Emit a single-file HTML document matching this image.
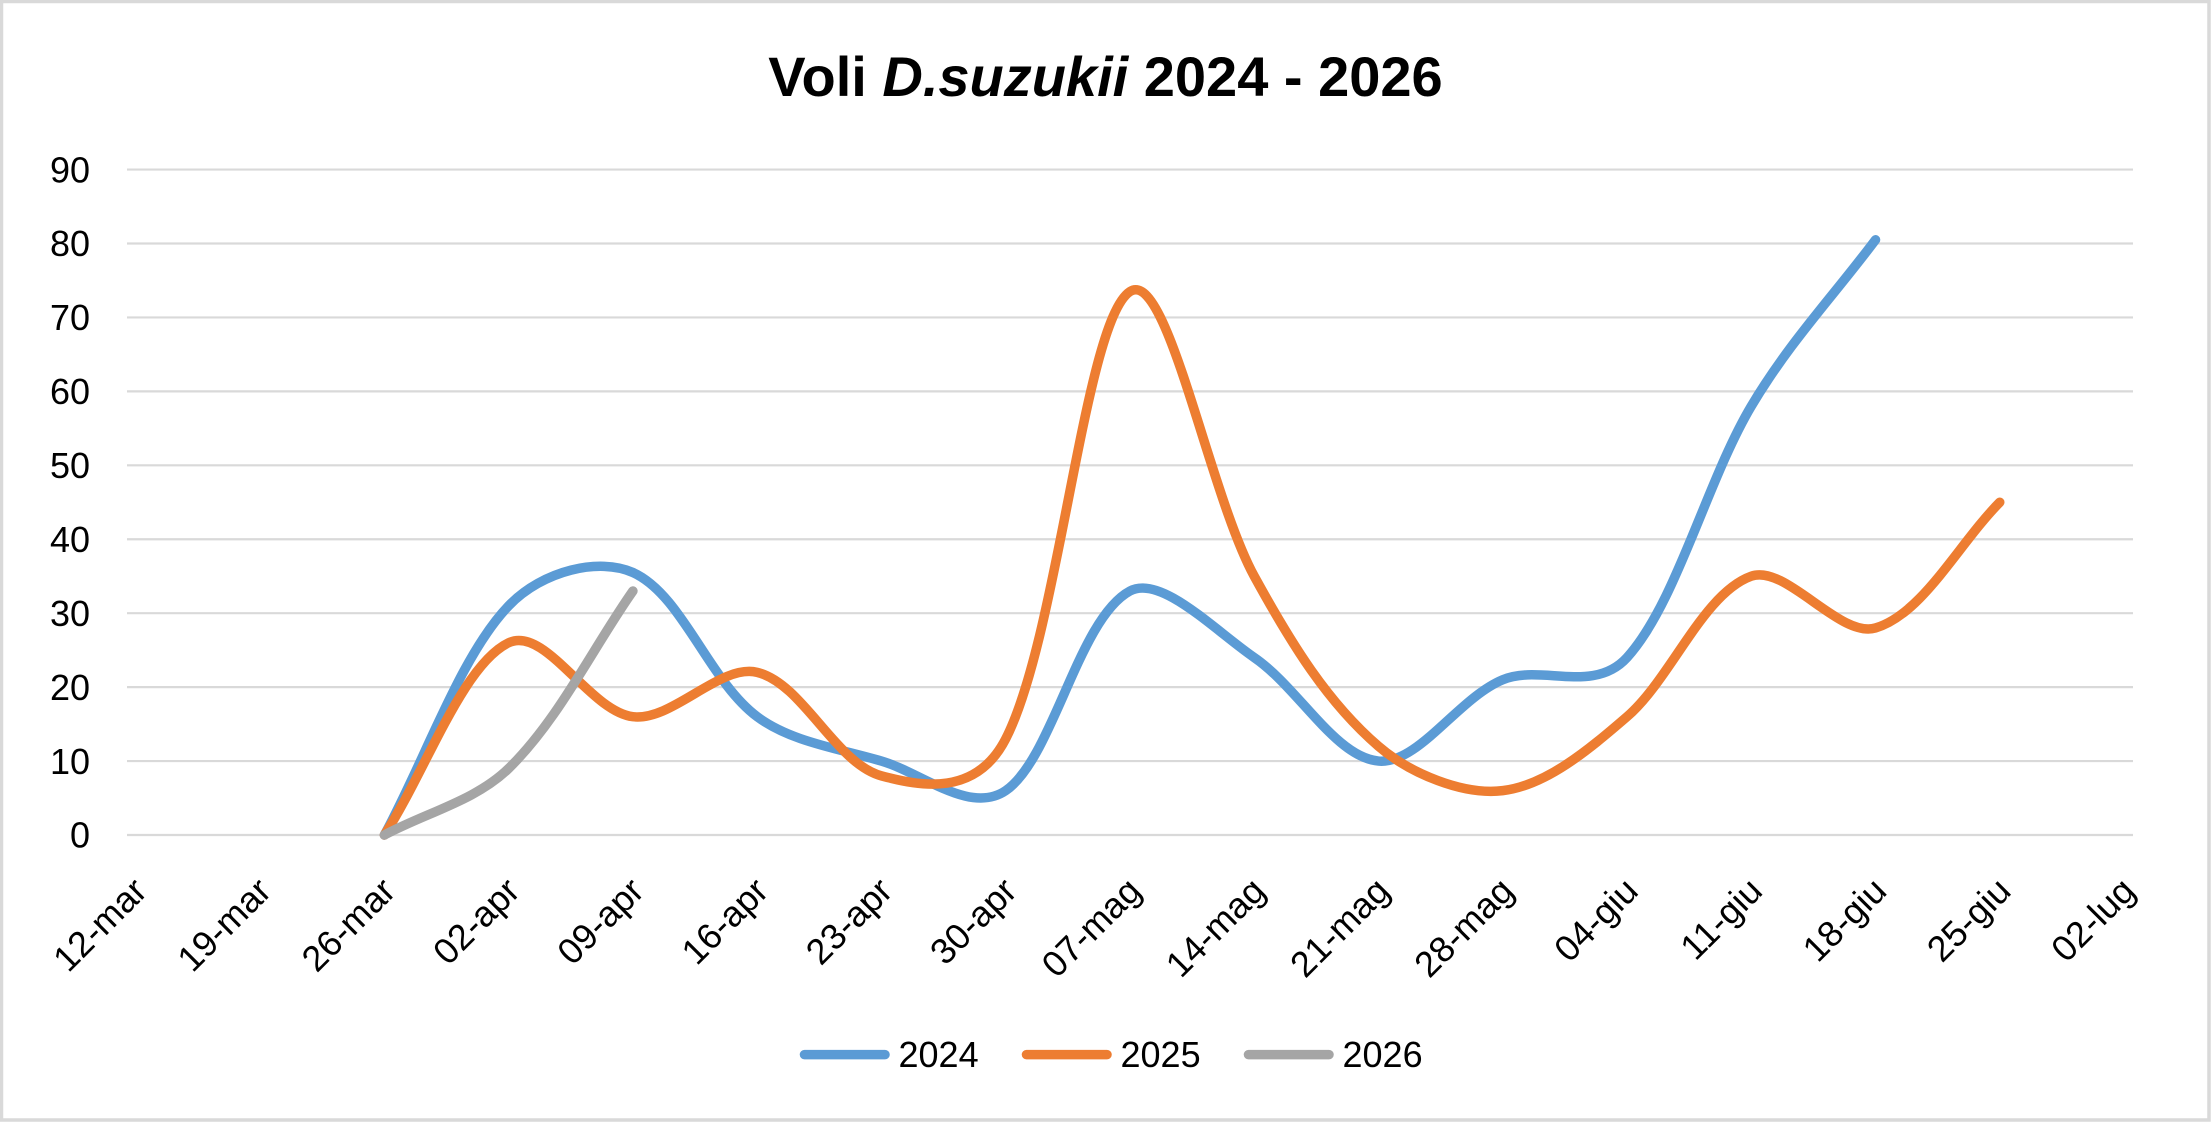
<!DOCTYPE html>
<html>
<head>
<meta charset="utf-8">
<style>
  html, body { margin: 0; padding: 0; background: #ffffff; }
  svg { display: block; }
  text { font-family: "Liberation Sans", Arial, sans-serif; fill: #000000; }
</style>
</head>
<body>
<svg width="2211" height="1122" viewBox="0 0 2211 1122" xmlns="http://www.w3.org/2000/svg">
  <rect x="0" y="0" width="2211" height="1122" fill="#ffffff"/>
  <rect x="1.5" y="1.5" width="2207.5" height="1118.5" fill="none" stroke="#D9D9D9" stroke-width="3.5"/>

  <!-- Title -->
  <text x="1105.5" y="96" text-anchor="middle" font-size="56" font-weight="bold">Voli <tspan font-style="italic">D.suzukii</tspan> 2024 - 2026</text>

  <!-- Gridlines -->
  <g stroke="#D9D9D9" stroke-width="2.2">
    <line x1="127" y1="169.54" x2="2133" y2="169.54"/>
    <line x1="127" y1="243.48" x2="2133" y2="243.48"/>
    <line x1="127" y1="317.42" x2="2133" y2="317.42"/>
    <line x1="127" y1="391.36" x2="2133" y2="391.36"/>
    <line x1="127" y1="465.30" x2="2133" y2="465.30"/>
    <line x1="127" y1="539.24" x2="2133" y2="539.24"/>
    <line x1="127" y1="613.18" x2="2133" y2="613.18"/>
    <line x1="127" y1="687.12" x2="2133" y2="687.12"/>
    <line x1="127" y1="761.06" x2="2133" y2="761.06"/>
    <line x1="127" y1="835.00" x2="2133" y2="835.00"/>
  </g>

  <!-- Y axis labels -->
  <g font-size="36" text-anchor="end">
    <text x="90" y="182.3">90</text>
    <text x="90" y="256.2">80</text>
    <text x="90" y="330.2">70</text>
    <text x="90" y="404.1">60</text>
    <text x="90" y="478.0">50</text>
    <text x="90" y="552.0">40</text>
    <text x="90" y="625.9">30</text>
    <text x="90" y="699.9">20</text>
    <text x="90" y="773.8">10</text>
    <text x="90" y="847.7">0</text>
  </g>

  <!-- X axis labels -->
  <g font-size="36" text-anchor="end">
    <text transform="translate(148.9,893) rotate(-45)">12-mar</text>
    <text transform="translate(273.1,893) rotate(-45)">19-mar</text>
    <text transform="translate(397.4,893) rotate(-45)">26-mar</text>
    <text transform="translate(521.7,893) rotate(-45)">02-apr</text>
    <text transform="translate(645.9,893) rotate(-45)">09-apr</text>
    <text transform="translate(770.2,893) rotate(-45)">16-apr</text>
    <text transform="translate(894.4,893) rotate(-45)">23-apr</text>
    <text transform="translate(1018.7,893) rotate(-45)">30-apr</text>
    <text transform="translate(1143.0,893) rotate(-45)">07-mag</text>
    <text transform="translate(1267.2,893) rotate(-45)">14-mag</text>
    <text transform="translate(1391.5,893) rotate(-45)">21-mag</text>
    <text transform="translate(1515.7,893) rotate(-45)">28-mag</text>
    <text transform="translate(1640.0,893) rotate(-45)">04-giu</text>
    <text transform="translate(1764.3,893) rotate(-45)">11-giu</text>
    <text transform="translate(1888.5,893) rotate(-45)">18-giu</text>
    <text transform="translate(2012.8,893) rotate(-45)">25-giu</text>
    <text transform="translate(2137.0,893) rotate(-45)">02-lug</text>
  </g>

  <!-- Series -->
  <g fill="none" stroke-width="9.5" stroke-linecap="round" stroke-linejoin="round">
    <path stroke="#5B9BD5" d="M384.40,835.00
      C425.82,758.60 460.15,656.31 508.66,605.79
      C542.99,570.05 599.36,557.53 632.92,572.51
      C682.20,594.50 708.55,680.53 757.18,716.70
      C791.39,742.14 839.35,748.54 881.44,761.06
      C922.19,773.18 970.41,814.79 1005.70,790.64
      C1053.25,758.11 1078.17,618.74 1129.96,591.00
      C1161.01,574.37 1215.64,631.14 1254.22,657.54
      C1298.48,687.83 1335.29,757.20 1378.48,761.06
      C1418.13,764.60 1457.96,698.38 1502.74,679.73
      C1540.80,663.88 1593.44,694.50 1627.00,657.54
      C1676.28,603.30 1706.75,480.97 1751.26,406.15
      C1789.60,341.71 1834.10,295.24 1875.52,239.78"/>
    <path stroke="#ED7D31" d="M384.40,835.00
      C425.82,770.92 462.57,664.71 508.66,642.76
      C545.41,625.27 589.61,711.55 632.92,716.70
      C672.44,721.40 719.96,663.47 757.18,672.33
      C802.80,683.19 835.46,763.54 881.44,775.85
      C920.58,786.33 975.90,796.97 1005.70,738.88
      C1058.74,635.53 1084.40,321.36 1129.96,291.54
      C1167.24,267.14 1208.94,493.35 1254.22,576.21
      C1291.78,644.68 1327.55,702.32 1378.48,746.27
      C1410.39,773.80 1463.22,795.34 1502.74,790.64
      C1546.05,785.49 1588.26,750.13 1627.00,716.70
      C1671.10,678.65 1703.03,593.43 1751.26,576.21
      C1785.87,563.85 1839.71,638.63 1875.52,627.97
      C1922.55,613.98 1958.36,544.17 1999.78,502.27"/>
    <path stroke="#A5A5A5" d="M384.40,835.00
      C425.82,812.82 476.00,800.51 508.66,768.45
      C558.85,719.18 591.50,650.15 632.92,591.00"/>
  </g>

  <!-- Legend -->
  <g stroke-width="9.5" stroke-linecap="round">
    <line x1="804.5" y1="1054.6" x2="885" y2="1054.6" stroke="#5B9BD5"/>
    <line x1="1026.5" y1="1054.6" x2="1107" y2="1054.6" stroke="#ED7D31"/>
    <line x1="1248.5" y1="1054.6" x2="1329" y2="1054.6" stroke="#A5A5A5"/>
  </g>
  <g font-size="36">
    <text x="898.5" y="1067">2024</text>
    <text x="1120.5" y="1067">2025</text>
    <text x="1342.5" y="1067">2026</text>
  </g>
</svg>
</body>
</html>
